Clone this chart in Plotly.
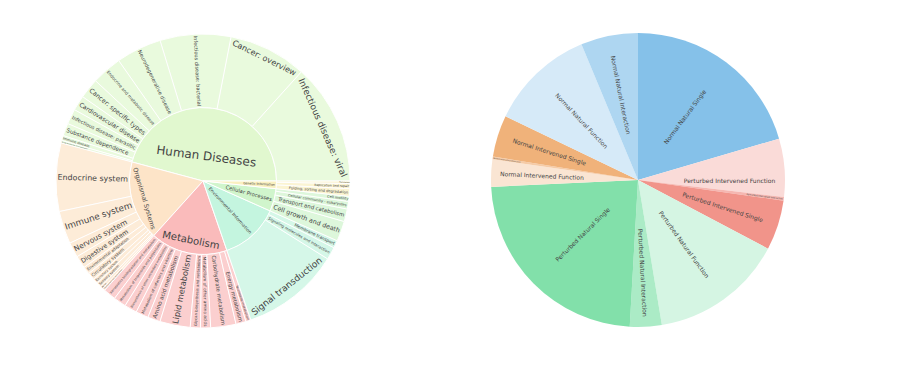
import plotly.graph_objects as go

# ---------------- Sunburst data (KEGG categories) ----------------
categories = ["Human Diseases", "Organismal Systems", "Metabolism",
              "Environmental Information", "Cellular Processes", "Genetic Information"]
category_colors = ["#E1F8CF", "#FDE4C8", "#FABBBB", "#C4F5DF", "#D0F5CC", "#FAF0C0"]

human_diseases = ["Infectious disease: viral", "Cancer: overview", "Infectious disease: bacterial",
                  "Neurodegenerative disease", "Endocrine and metabolic disease", "Cancer: specific types",
                  "Cardiovascular disease", "Infectious disease: parasitic", "Substance dependence",
                  "Immune disease", "Drug resistance: antineoplastic"]
human_diseases_values = [48, 31, 28, 18, 12, 8, 6, 6, 5, 2, 1]

organismal = ["Endocrine system", "Immune system", "Nervous system", "Digestive system",
              "Environmental adaptation", "Circulatory system", "Excretory system",
              "Sensory system", "Aging", "Development and regeneration"]
organismal_values = [27, 13, 6, 5, 3, 3, 2, 2, 1, 1]

metabolism = ["Xenobiotics biodegradation and metabolism", "Metabolism of terpenoids and polyketides",
              "Biosynthesis of other secondary metabolites", "Metabolism of cofactors and vitamins",
              "Amino acid metabolism", "Lipid metabolism", "Glycan biosynthesis and metabolism",
              "Metabolism of other amino acids", "Carbohydrate metabolism", "Energy metabolism",
              "Nucleotide metabolism"]
metabolism_values = [5, 5, 5, 5, 5, 12, 4, 4, 10, 4, 2]

environmental = ["Signal transduction", "Signaling molecules and interaction", "Membrane transport"]
environmental_values = [39, 5, 3]

cellular = ["Cell growth and death", "Transport and catabolism",
            "Cellular community - eukaryotes", "Cell motility"]
cellular_values = [8, 5, 3, 2]

genetic = ["Folding, sorting and degradation", "Replication and repair", "Translation"]
genetic_values = [3, 2, 1]

children = [human_diseases, organismal, metabolism, environmental, cellular, genetic]
children_values = [human_diseases_values, organismal_values, metabolism_values,
                   environmental_values, cellular_values, genetic_values]

# ---------------- Pie data ----------------
pie_labels = ["Normal Natural Single", "Perturbed Intervened Function", "Perturbed Intervened Interaction",
              "Perturbed Intervened Single", "Perturbed Natural Function", "Perturbed Natural Interaction",
              "Perturbed Natural Single", "Normal Intervened Function", "Normal Intervened Interaction",
              "Normal Intervened Single", "Normal Natural Function", "Normal Natural Interaction"]
pie_values = [205, 64, 4, 55, 147, 35, 234, 30, 3, 46, 116, 63]
pie_colors = ["#85C1E9", "#FADBD8", "#F5B7B1", "#F1948A", "#D5F5E3", "#ABEBC6",
              "#82E0AA", "#FAE5D3", "#F5CBA7", "#F0B27A", "#D6EAF8", "#AED6F1"]

# build sunburst arrays
ids, labels, parents, values, colors = [], [], [], [], []
for cat, col, kids, kvals in zip(categories, category_colors, children, children_values):
    ids.append(cat); labels.append(cat); parents.append(""); values.append(sum(kvals)); colors.append(col)
    for k, v in zip(kids, kvals):
        ids.append(cat + "/" + k); labels.append(k); parents.append(cat); values.append(v); colors.append(col)

FONT = "DejaVu Sans"
W, H = 889, 351


def dom(cx, cy, r):
    return dict(x=[(cx - r) / W, (cx + r) / W], y=[(H - (cy + r)) / H, (H - (cy - r)) / H])


fig = go.Figure()
fig.add_trace(go.Sunburst(
    ids=ids, labels=labels, parents=parents, values=values,
    branchvalues="total", sort=False,
    marker=dict(colors=colors, line=dict(color="white", width=1)),
    insidetextorientation="auto",
    textfont=dict(family=FONT, size=12, color="#444"),
    domain=dom(195, 173, 147),
))
fig.add_trace(go.Pie(
    labels=pie_labels, values=pie_values, sort=False, direction="clockwise", rotation=0,
    marker=dict(colors=pie_colors),
    textinfo="label", textposition="inside", insidetextorientation="radial",
    textfont=dict(family=FONT, size=6, color="#444"),
    showlegend=False,
    domain=dom(630, 172, 147),
))
fig.update_layout(
    width=W, height=H, margin=dict(l=0, r=0, t=0, b=0),
    paper_bgcolor="white", plot_bgcolor="white",
    font=dict(family=FONT, color="#444"),
    showlegend=False,
)
fig.write_html("out.html")
